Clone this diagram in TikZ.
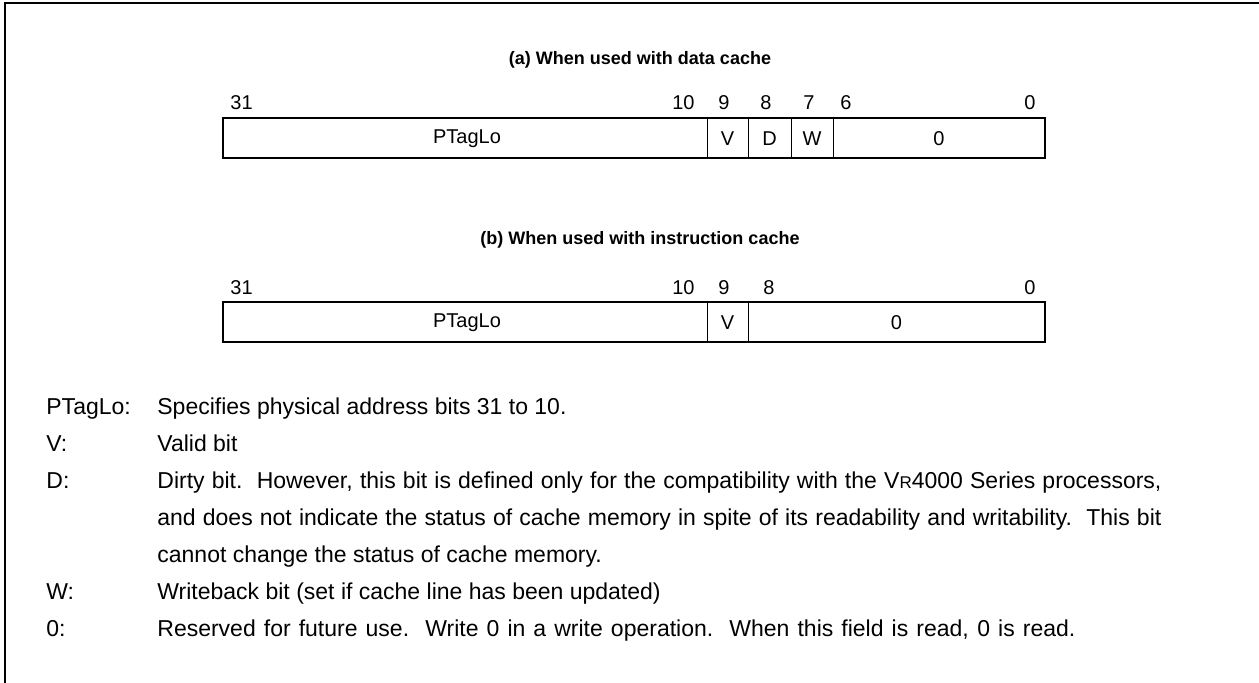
\documentclass[tikz,border=0pt]{standalone}
\usepackage{fontspec}
\setmainfont{Liberation Sans}
\begin{document}
\begin{tikzpicture}[x=0.5pt,y=-0.5pt,
  bitnum/.style={inner sep=0pt, font=\fontsize{10}{12}\selectfont},
  fieldtxt/.style={inner sep=0pt, font=\fontsize{10}{12}\selectfont},
  titletxt/.style={inner sep=0pt, font=\bfseries\fontsize{9}{11}\selectfont},
  desc/.style={inner sep=0pt, anchor=base west, font=\fontsize{11.5}{13}\selectfont},
  regbox/.style={draw, line width=1.2pt},
  divider/.style={draw, line width=0.5pt},
  frameline/.style={draw, line width=1.1pt},
]
\useasboundingbox (0,0) rectangle (1259,683);
% frame (top and left edges)
\coordinate (ftl) at (5,2.8);
\coordinate (ftr) at (1262,2.8);
\coordinate (fbl) at (5,686);
\draw[frameline] (ftr) -- (ftl) -- (fbl);

% ---------- (a) ----------
\node[titletxt] (ta) at (640,60) {(a) When used with data cache};
\node[bitnum, anchor=west] (a31) at (230,103) {31};
\node[bitnum, anchor=east] (a10) at (695,103) {10};
\node[bitnum] (a9) at (724,103) {9};
\node[bitnum] (a8) at (766,103) {8};
\node[bitnum] (a7) at (809,103) {7};
\node[bitnum, anchor=west] (a6) at (840,103) {6};
\node[bitnum, anchor=east] (a0) at (1036,103) {0};
\draw[divider] (707,118) -- (707,158);
\draw[divider] (748,118) -- (748,158);
\draw[divider] (791,118) -- (791,158);
\draw[divider] (833,118) -- (833,158);
\draw[regbox] (223,118) rectangle (1045,158);
\node[fieldtxt] (fa1) at (467,139) {PTagLo};
\node[fieldtxt] (fa2) at (727.5,139) {V};
\node[fieldtxt] (fa3) at (769.5,139) {D};
\node[fieldtxt] (fa4) at (812,139) {W};
\node[fieldtxt] (fa5) at (939,139) {0};

% ---------- (b) ----------
\node[titletxt] (tb) at (640,240) {(b) When used with instruction cache};
\node[bitnum, anchor=west] (b31) at (230,288) {31};
\node[bitnum, anchor=east] (b10) at (695,288) {10};
\node[bitnum] (b9) at (724,288) {9};
\node[bitnum, anchor=west] (b8) at (763,288) {8};
\node[bitnum, anchor=east] (b0) at (1036,288) {0};
\draw[divider] (707,302) -- (707,342);
\draw[divider] (748,302) -- (748,342);
\draw[regbox] (223,302) rectangle (1045,342);
\node[fieldtxt] (fb1) at (467,323) {PTagLo};
\node[fieldtxt] (fb2) at (727.5,323) {V};
\node[fieldtxt] (fb3) at (896.5,323) {0};

% ---------- descriptions ----------
\node[desc] (l1) at (46,415) {PTagLo:};
\node[desc] (d1) at (157,415) {Specifies physical address bits 31 to 10.};
\node[desc] (l2) at (46,452) {V:};
\node[desc] (d2) at (157,452) {Valid bit};
\node[desc] (l3) at (46,489) {D:};
\node[desc] (d3) at (157,489) {\makebox[502pt][s]{Dirty bit.\ \ However, this bit is defined only for the compatibility with the V{\fontsize{8.5}{8.5}\selectfont R}4000 Series processors,}};
\node[desc] (d4) at (157,526) {\makebox[502pt][s]{and does not indicate the status of cache memory in spite of its readability and writability.\ \ This bit}};
\node[desc] (d5) at (157,563) {cannot change the status of cache memory.};
\node[desc] (l6) at (46,600) {W:};
\node[desc] (d6) at (157,600) {Writeback bit (set if cache line has been updated)};
\node[desc] (l7) at (46,637) {0:};
\node[desc] (d7) at (157,637) {\makebox[459pt][s]{Reserved for future use.\ \ Write 0 in a write operation.\ \ When this field is read, 0 is read.}};
\end{tikzpicture}
\end{document}
